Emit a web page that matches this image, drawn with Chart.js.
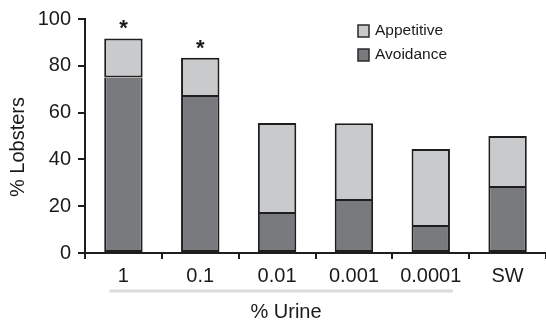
<!DOCTYPE html>
<html>
<head>
<meta charset="utf-8">
<script src="https://cdn.jsdelivr.net/npm/chart.js@4"></script>
<style>
  html, body { margin: 0; padding: 0; background: #fff; }
  #wrap { width: 546px; height: 322px; }
</style>
</head>
<body>
<div id="wrap"><canvas id="chart" width="546" height="322"></canvas></div>
<script>
const categories = ["1", "0.1", "0.01", "0.001", "0.0001", "SW"];
const avoidance = [75, 66.7, 16.7, 22.2, 11.1, 27.8];
const appetitive = [16.7, 16.7, 38.9, 33.3, 33.3, 22.2];
const sigMarks = ["*", "*", "", "", "", ""];
const yTicks = [0, 20, 40, 60, 80, 100];

const FONT = "'Liberation Sans', Arial, Helvetica, sans-serif";
const INK = "#1a1a1a";
const darkGrey = "#797a7d";
const lightGrey = "#c9cacc";

// extra text: axis titles, urine bracket, asterisks, legend
const decorations = {
  id: "decorations",
  afterDraw(chart) {
    const ctx = chart.ctx;
    const x = chart.scales.x;
    ctx.save();
    ctx.fillStyle = INK;

    // y title
    ctx.save();
    ctx.translate(18, 147);
    ctx.rotate(-Math.PI / 2);
    ctx.font = "20px " + FONT;
    ctx.textAlign = "center";
    ctx.textBaseline = "middle";
    ctx.fillText("% Lobsters", 0, 0);
    ctx.restore();

    // grey bracket under urine concentrations
    ctx.strokeStyle = "#dcdcdc";
    ctx.lineWidth = 3;
    ctx.beginPath();
    ctx.moveTo(x.getPixelForValue(0) - 14, 291);
    ctx.lineTo(x.getPixelForValue(4) + 22, 291);
    ctx.stroke();

    // x title
    ctx.font = "20px " + FONT;
    ctx.textAlign = "center";
    ctx.textBaseline = "middle";
    ctx.fillText("% Urine", 286, 312);

    // significance asterisks over the stacks
    const top = chart.getDatasetMeta(1).data;
    ctx.font = "bold 22px " + FONT;
    ctx.textBaseline = "alphabetic";
    sigMarks.forEach((m, i) => {
      if (!m) return;
      ctx.fillText(m, top[i].x, top[i].y - 3);
    });

    // legend (Appetitive first, as in the figure)
    const items = [
      { label: chart.data.datasets[1].label, color: lightGrey },
      { label: chart.data.datasets[0].label, color: darkGrey }
    ];
    ctx.font = "15.5px " + FONT;
    ctx.textAlign = "left";
    ctx.textBaseline = "middle";
    items.forEach((it, i) => {
      const yy = 31 + i * 24;
      ctx.fillStyle = it.color;
      ctx.fillRect(358, yy - 6, 11, 12);
      ctx.strokeStyle = "#2a2a2a";
      ctx.lineWidth = 1.5;
      ctx.strokeRect(358, yy - 6, 11, 12);
      ctx.fillStyle = INK;
      ctx.fillText(it.label, 375, yy);
    });
    ctx.restore();
  }
};

new Chart(document.getElementById("chart"), {
  type: "bar",
  data: {
    labels: categories,
    datasets: [
      {
        label: "Avoidance",
        data: avoidance,
        backgroundColor: darkGrey,
        borderColor: "#1e1e1e",
        borderWidth: 2,
        borderSkipped: "end"
      },
      {
        label: "Appetitive",
        data: appetitive,
        backgroundColor: lightGrey,
        borderColor: "#1e1e1e",
        borderWidth: 2,
        borderSkipped: false
      }
    ]
  },
  options: {
    responsive: false,
    animation: false,
    layout: { padding: { top: 17, left: 0, right: 0, bottom: 0 } },
    datasets: {
      bar: { categoryPercentage: 1, barPercentage: 0.5 }
    },
    plugins: {
      legend: { display: false },
      tooltip: { enabled: false }
    },
    scales: {
      x: {
        stacked: true,
        offset: true,
        afterFit(scale) { scale.height = 69; },
        grid: {
          offset: true,
          drawOnChartArea: false,
          tickLength: 6,
          color: "#1e1e1e",
          lineWidth: 2
        },
        border: { color: "#1e1e1e", width: 2 },
        ticks: {
          color: INK,
          font: { family: FONT, size: 20 },
          padding: 5,
          maxRotation: 0
        }
      },
      y: {
        stacked: true,
        min: 0,
        max: 100,
        afterFit(scale) { scale.width = 85; },
        afterBuildTicks(scale) { scale.ticks = yTicks.map(v => ({ value: v })); },
        grid: {
          drawOnChartArea: false,
          tickLength: 7,
          color: "#1e1e1e",
          lineWidth: 2
        },
        border: { color: "#1e1e1e", width: 2 },
        ticks: {
          color: INK,
          font: { family: FONT, size: 20 },
          padding: 7
        }
      }
    }
  },
  plugins: [decorations]
});
</script>
</body>
</html>
